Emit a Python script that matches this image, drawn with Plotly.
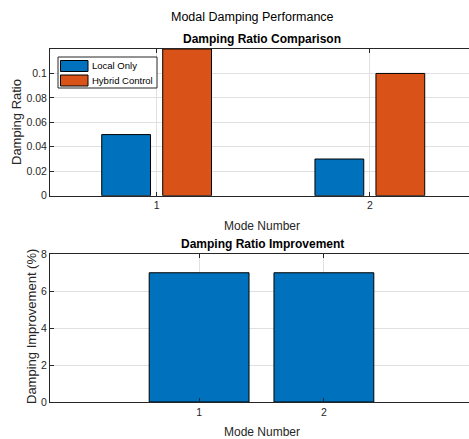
import plotly.graph_objects as go

modes = [1, 2]
local_only = [0.05, 0.03]
hybrid_control = [0.12, 0.10]
improvement_pct = [7, 7]
series_names = ["Local Only", "Hybrid Control"]
ratio_ticks = [0, 0.02, 0.04, 0.06, 0.08, 0.1]
ratio_tick_labels = ["0", "0.02", "0.04", "0.06", "0.08", "0.1"]
impr_ticks = [0, 2, 4, 6, 8]

BLUE = "#0072BD"
ORANGE = "#D95319"
AX = "#262626"
GRID = "#e0e0e0"
FONT = "Liberation Sans, Arial, sans-serif"

fig = go.Figure()
fig.add_trace(go.Bar(x=modes, y=local_only, name=series_names[0], showlegend=False,
                     marker=dict(color=BLUE, line=dict(color="black", width=1)), xaxis="x", yaxis="y"))
fig.add_trace(go.Bar(x=modes, y=hybrid_control, name=series_names[1], showlegend=False,
                     marker=dict(color=ORANGE, line=dict(color="black", width=1)), xaxis="x", yaxis="y"))
fig.add_trace(go.Bar(x=modes, y=improvement_pct, name="Improvement", showlegend=False, width=0.8,
                     marker=dict(color=BLUE, line=dict(color="black", width=1)), xaxis="x2", yaxis="y2"))

axcommon = dict(showline=True, linecolor=AX, linewidth=1, ticks="inside", ticklen=4, tickcolor=AX,
                showgrid=True, gridcolor=GRID, gridwidth=1, zeroline=False,
                tickfont=dict(family=FONT, size=10.5, color=AX))

W = 419.0
H = 353.0
def px(x):
    return (x - 50) / W
def py(y):
    return (402 - y) / H

fig.update_layout(
    width=469, height=439,
    margin=dict(l=50, r=0, t=49, b=37),
    paper_bgcolor="white", plot_bgcolor="white",
    barmode="group", bargap=0.428, bargroupgap=0.2,
    font=dict(family=FONT, color=AX),
    xaxis=dict(domain=[0, 1], anchor="y", range=[0.5, 2.465], tickvals=[1, 2], mirror="ticks", **axcommon),
    yaxis=dict(domain=[py(195.7), 1.0], anchor="x", range=[0, 0.12], tickvals=ratio_ticks,
               ticktext=ratio_tick_labels, **axcommon),
    xaxis2=dict(domain=[0, 1], anchor="y2", range=[-0.195, 3.163], tickvals=[1, 2], mirror="ticks", **axcommon),
    yaxis2=dict(domain=[0, py(254.3)], anchor="x2", range=[0, 8], tickvals=impr_ticks, **axcommon),
    showlegend=False,
)

# legend box (drawn)
fig.add_shape(type="rect", xref="paper", yref="paper", x0=px(58), x1=px(157), y0=py(88), y1=py(57),
              line=dict(color=AX, width=1), fillcolor="white", layer="above")
for i, (nm, col) in enumerate(zip(series_names, [BLUE, ORANGE])):
    yc = 66 + i * 14.5
    fig.add_shape(type="rect", xref="paper", yref="paper", x0=px(60.5), x1=px(88), y0=py(yc + 5.5), y1=py(yc - 5.5),
                  line=dict(color="black", width=1), fillcolor=col, layer="above")
    fig.add_annotation(text=nm, xref="paper", yref="paper", x=px(90), y=py(yc), xanchor="left", yanchor="middle",
                       showarrow=False, font=dict(family=FONT, size=9.5, color="black"))

ann = [
    dict(text="Modal Damping Performance", x=px(252), y=py(17), font=dict(family=FONT, size=12.5, color="black")),
    dict(text="<b>Damping Ratio Comparison</b>", x=px(262), y=py(39), font=dict(family=FONT, size=12, color="black")),
    dict(text="<b>Damping Ratio Improvement</b>", x=px(262), y=py(244), font=dict(family=FONT, size=12, color="black")),
    dict(text="Mode Number", x=px(262), y=py(226), font=dict(family=FONT, size=12, color=AX)),
    dict(text="Mode Number", x=px(262), y=py(432), font=dict(family=FONT, size=12, color=AX)),
    dict(text="Damping Ratio", x=px(16), y=py(122), textangle=-90, font=dict(family=FONT, size=13, color=AX)),
    dict(text="Damping Improvement (%)", x=px(31), y=py(327), textangle=-90, font=dict(family=FONT, size=13, color=AX)),
]
for a in ann:
    fig.add_annotation(xref="paper", yref="paper", showarrow=False, xanchor="center", yanchor="middle", **a)

fig.write_html("out.html", config={"displayModeBar": False},
               post_script="document.body.style.margin='0';document.body.style.overflow='hidden';")
